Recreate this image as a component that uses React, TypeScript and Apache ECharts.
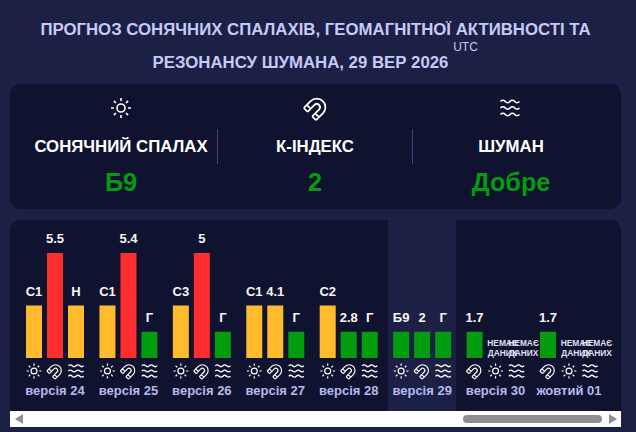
import React, { useEffect, useRef } from "react";
import * as echarts from "echarts";

const days = ["версія 24", "версія 25", "версія 26", "версія 27", "версія 28", "версія 29", "версія 30", "жовтий 01"];

// bar height levels as drawn: 0 no data, 1 green, 2 yellow, 4 red
const flareLevels = [2, 2, 2, 2, 2, 1, 0, 0];
const kpLevels = [4, 4, 4, 2, 1, 1, 1, 1];
const noiseLevels = [2, 1, 1, 1, 1, 1, 0, 0];

const flareLabels = ["С1", "С1", "С3", "С1", "С2", "Б9", null, null];
const kpLabels = ["5.5", "5.4", "5", "4.1", "2.8", "2", "1.7", "1.7"];
const noiseLabels = ["Н", "Г", "Г", "Г", "Г", "Г", null, null];

// the last two days put the K-index bar first
const kpFirst = [false, false, false, false, false, false, true, true];

const headerNames = ["СОНЯЧНИЙ СПАЛАХ", "К-ІНДЕКС", "ШУМАН"];
const headerValues = ["Б9", "2", "Добре"];

const BG = "#1c2045";
const PANEL = "#0f1330";
const GREEN = "#029c0e";
const FONT = "'Liberation Sans', Arial, sans-serif";

const levelColors: Record<number, string> = { 1: GREEN, 2: "#ffbb2b", 4: "#ff2e2e" };

const metrics: Record<string, { levels: number[]; labels: (string | null)[]; icon: string; scale: number }> = {
  flare: { levels: flareLevels, labels: flareLabels, icon: "sunIcon", scale: 0.74 },
  kp: { levels: kpLevels, labels: kpLabels, icon: "magnetIcon", scale: 0.72 },
  noise: { levels: noiseLevels, labels: noiseLabels, icon: "waveIcon", scale: 0.8 },
};

const slotMetric = (day: number, slot: number) =>
  (kpFirst[day] ? ["kp", "flare", "noise"] : ["flare", "kp", "noise"])[slot];

echarts.graphic.registerShape(
  "sunIcon",
  echarts.graphic.extendPath(
    "M12 2v3M12 19v3M2 12h3M19 12h3M4.9 4.9l2.1 2.1M17 17l2.1 2.1M4.9 19.1L7 17M17 7l2.1-2.1M16 12a4 4 0 1 1-8 0a4 4 0 1 1 8 0Z",
    {}
  )
);
echarts.graphic.registerShape(
  "magnetIcon",
  echarts.graphic.extendPath(
    "M4 13v-8a1 1 0 0 1 1-1h3a1 1 0 0 1 1 1v8a3 3 0 0 0 6 0v-8a1 1 0 0 1 1-1h3a1 1 0 0 1 1 1v8a8 8 0 0 1-16 0M4 8h5M15 8h5",
    {}
  )
);
echarts.graphic.registerShape(
  "waveIcon",
  echarts.graphic.extendPath(
    "M2.5 5.5c1.6-1.6 3.2-1.6 4.75 0s3.2 1.6 4.75 0 3.2-1.6 4.75 0 3.2 1.6 4.75 0M2.5 12c1.6-1.6 3.2-1.6 4.75 0s3.2 1.6 4.75 0 3.2-1.6 4.75 0 3.2 1.6 4.75 0M2.5 18.5c1.6-1.6 3.2-1.6 4.75 0s3.2 1.6 4.75 0 3.2-1.6 4.75 0 3.2 1.6 4.75 0",
    {}
  )
);

const MAGNET_TURN = (-5 * Math.PI) / 4;

function iconProps(name: string, cx: number, cy: number, scale: number, lineWidth: number) {
  return {
    type: name,
    x: cx - 12,
    y: cy - 12,
    originX: 12,
    originY: 12,
    scaleX: scale,
    scaleY: scale,
    rotation: name === "magnetIcon" ? MAGNET_TURN : 0,
    style: { fill: "none", stroke: "#ffffff", lineWidth },
  };
}

function slotSeries(slot: number) {
  return {
    type: "bar",
    barWidth: 16,
    barGap: "31.25%",
    data: days.map((_, day) => {
      const m = metrics[slotMetric(day, slot)];
      const text = m.labels[day];
      const level = m.levels[day];
      return {
        value: level,
        itemStyle: { color: levelColors[level] ?? "transparent" },
        label: text
          ? { formatter: text }
          : {
              formatter: "НЕМАЄ\nДАНИХ",
              fontSize: 8.4,
              lineHeight: 10,
              distance: 0,
              offset: [7, 0],
              color: "#dfe1f2",
            },
      };
    }),
    label: {
      show: true,
      position: "top",
      distance: 8,
      fontFamily: FONT,
      fontWeight: "bold",
      fontSize: 13,
      color: "#f7f7f7",
    },
    silent: true,
  };
}

const iconData: number[][] = [];
days.forEach((_, day) => [0, 1, 2].forEach((slot) => iconData.push([day, slot])));

const App: React.FC = () => {
  const chartRef = useRef<HTMLDivElement>(null);

  useEffect(() => {
    document.body.style.margin = "0";
    if (!chartRef.current) return;
    const chart = echarts.init(chartRef.current, undefined, { renderer: "svg" });

    const headerX = [121, 315, 511];
    const header: any[] = [];
    headerNames.forEach((name, i) => {
      header.push({
        type: "text",
        x: headerX[i],
        y: 146,
        style: { text: name, fill: "#ffffff", font: `bold 16.8px ${FONT}`, textAlign: "center", textVerticalAlign: "middle" },
      });
      header.push({
        type: "text",
        x: headerX[i],
        y: 182,
        style: { text: headerValues[i], fill: GREEN, font: `bold 25.2px ${FONT}`, textAlign: "center", textVerticalAlign: "middle" },
      });
    });

    chart.setOption({
      animation: false,
      backgroundColor: BG,
      grid: { left: 18.3, width: 587.4, top: 253, height: 105 },
      xAxis: {
        type: "category",
        data: days,
        axisLine: { show: false },
        axisTick: { show: false },
        axisLabel: {
          interval: 0,
          margin: 26,
          fontFamily: FONT,
          fontWeight: "bold",
          fontSize: 13,
          color: "#b4baea",
        },
      },
      yAxis: { type: "value", min: 0, max: 4, show: false },
      series: [
        slotSeries(0),
        slotSeries(1),
        slotSeries(2),
        {
          type: "custom",
          silent: true,
          data: iconData,
          encode: { x: 0, y: 1 },
          renderItem: (_: any, api: any) => {
            const day = api.value(0);
            const slot = api.value(1);
            const base = api.coord([day, 0]);
            const m = metrics[slotMetric(day, slot)];
            return iconProps(m.icon, base[0] + (slot - 1) * 21, base[1] + 13, m.scale, 1.6);
          },
        },
      ],
      graphic: [
        { type: "rect", shape: { x: 10, y: 84, width: 611, height: 125, r: 10 }, style: { fill: PANEL } },
        { type: "rect", shape: { x: 10, y: 220, width: 611, height: 191, r: [10, 10, 0, 0] }, style: { fill: PANEL } },
        { type: "rect", shape: { x: 388, y: 220, width: 68, height: 191 }, style: { fill: BG } },
        {
          type: "text",
          x: 315.5,
          y: 29,
          style: {
            text: "ПРОГНОЗ СОНЯЧНИХ СПАЛАХІВ, ГЕОМАГНІТНОЇ АКТИВНОСТІ ТА",
            fill: "#c5caf7",
            font: `bold 16.8px ${FONT}`,
            textAlign: "center",
            textVerticalAlign: "middle",
          },
        },
        {
          type: "text",
          x: 300.5,
          y: 62,
          style: {
            text: "РЕЗОНАНСУ ШУМАНА, 29 ВЕР 2026",
            fill: "#c5caf7",
            font: `bold 16.8px ${FONT}`,
            textAlign: "center",
            textVerticalAlign: "middle",
          },
        },
        {
          type: "text",
          x: 465.5,
          y: 47,
          style: { text: "UTC", fill: "#c5caf7", font: `12px ${FONT}`, textAlign: "center", textVerticalAlign: "middle" },
        },
        iconProps("sunIcon", 121, 108, 1, 1.6),
        iconProps("magnetIcon", 316, 108, 1.08, 1.6),
        iconProps("waveIcon", 510, 108, 1, 1.6),
        { type: "line", shape: { x1: 217.5, y1: 129, x2: 217.5, y2: 164 }, style: { stroke: "#3e4480", lineWidth: 1 } },
        { type: "line", shape: { x1: 412.5, y1: 129, x2: 412.5, y2: 164 }, style: { stroke: "#3e4480", lineWidth: 1 } },
        ...header,
        { type: "rect", shape: { x: 10, y: 411, width: 611, height: 16 }, style: { fill: "#ffffff" } },
        { type: "rect", shape: { x: 463, y: 415, width: 139, height: 8, r: 4 }, style: { fill: "#8f8f8f" } },
        { type: "polygon", shape: { points: [[23, 414], [23, 424], [15, 419]] }, style: { fill: "#8f8f8f" } },
        { type: "polygon", shape: { points: [[609, 414], [609, 424], [617, 419]] }, style: { fill: "#8f8f8f" } },
      ],
    });

    return () => {
      chart.dispose();
    };
  }, []);

  return <div ref={chartRef} style={{ width: "636px", height: "432px" }} />;
};

export default App;
